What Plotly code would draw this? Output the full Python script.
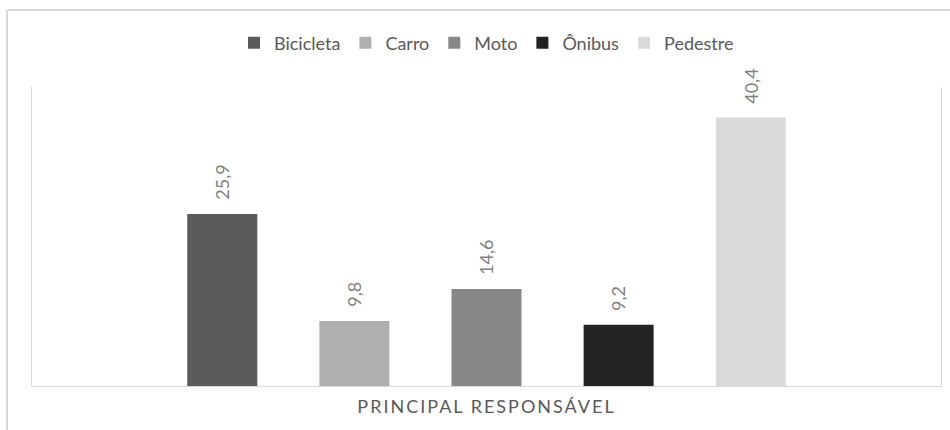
import plotly.graph_objects as go

categories = ["Bicicleta", "Carro", "Moto", "Ônibus", "Pedestre"]
values = [25.9, 9.8, 14.6, 9.2, 40.4]
colors = ["#5b5b5b", "#afafaf", "#888888", "#232323", "#d9d9d9"]
axis_title = "PRINCIPAL RESPONSÁVEL"

FONT = "Lato, 'Open Sans', sans-serif"

fig = go.Figure()
for name, v, c in zip(categories, values, colors):
    fig.add_trace(go.Bar(x=[name], y=[v], name=name, marker=dict(color=c, line=dict(width=0)),
                         hoverinfo="skip"))
    fig.add_annotation(x=name, y=v, text=f"{v:.1f}".replace(".", ","), textangle=-90,
                       showarrow=False, yanchor="bottom", xanchor="center", yshift=12,
                       font=dict(family=FONT, size=18, color="#7f7f7f"))

line_c = "#d9d9d9"
fig.update_layout(
    width=950, height=430, autosize=False,
    margin=dict(l=32, r=9, t=87, b=44),
    paper_bgcolor="white", plot_bgcolor="white",
    barmode="overlay", bargap=0.47,
    font=dict(family=FONT, color="#595959"),
    showlegend=True,
    legend=dict(orientation="h", x=0.5, xanchor="center", y=1.147, yanchor="middle",
                font=dict(family=FONT, size=18, color="#595959"), itemwidth=30,
                traceorder="normal", bgcolor="rgba(0,0,0,0)"),
    xaxis=dict(type="category", categoryorder="array", categoryarray=categories,
               range=[-1.44, 5.44], showticklabels=False, ticks="", showgrid=False,
               showline=True, linecolor=line_c, linewidth=1, zeroline=False,
               title=dict(text=axis_title, standoff=14,
                          font=dict(family=FONT, size=18, color="#595959")),
               automargin=False, fixedrange=True),
    yaxis=dict(range=[0, 45], showticklabels=False, ticks="", showgrid=False,
               showline=True, mirror=True, linecolor=line_c, linewidth=1, zeroline=False,
               automargin=False, fixedrange=True),
    shapes=[
        dict(type="line", xref="paper", yref="paper", x0=-0.0275, x1=-0.0275, y0=-0.2, y1=1.2575,
             line=dict(color=line_c, width=2)),
        dict(type="line", xref="paper", yref="paper", x0=-0.0275, x1=1.02, y0=1.2575, y1=1.2575,
             line=dict(color=line_c, width=2)),
    ],
)

post = "document.querySelectorAll('.xtitle').forEach(function(e){e.style.letterSpacing='2px';});"
fig.write_html("out.html", post_script=post, config={"displayModeBar": False})
